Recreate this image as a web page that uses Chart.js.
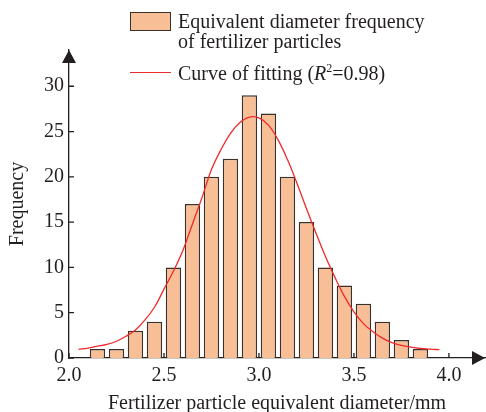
<!DOCTYPE html>
<html>
<head>
<meta charset="utf-8">
<script src="https://cdn.jsdelivr.net/npm/chart.js@4/dist/chart.umd.min.js"></script>
<style>
  body { margin: 0; background: #fff; }
  #wrap { position: relative; width: 486px; height: 412px; font-family: "Liberation Serif", "DejaVu Serif", serif; color: #231f20; }
  .lg { position: absolute; font-size: 20px; line-height: 20px; white-space: nowrap; }
  #swatch { position: absolute; left: 130px; top: 12px; width: 41px; height: 19px; box-sizing: border-box; background: #f8bf96; border: 1.5px solid #3b302a; }
  #redline { position: absolute; left: 130px; top: 72px; width: 41px; height: 1.3px; background: #ee2a2a; }
  sup { font-size: 12px; vertical-align: 8px; line-height: 0; }
</style>
</head>
<body>
<div id="wrap">
  <canvas id="myChart" width="486" height="412"></canvas>
  <div id="swatch"></div>
  <div class="lg" style="left:178px;top:11px;">Equivalent diameter frequency<br>of fertilizer particles</div>
  <div id="redline"></div>
  <div class="lg" style="left:178px;top:63px;">Curve of fitting (<i>R</i><sup>2</sup>=0.98)</div>
</div>
<script>
// histogram bins (bin centre, mm) and counts
var binCentres = [2.15, 2.25, 2.35, 2.45, 2.55, 2.65, 2.75, 2.85, 2.95, 3.05, 3.15, 3.25, 3.35, 3.45, 3.55, 3.65, 3.75, 3.85];
var counts     = [1, 1, 3, 4, 10, 17, 20, 22, 29, 27, 20, 15, 10, 8, 6, 4, 2, 1];

// fitted curve
var fitX = [2.05, 2.10, 2.15, 2.20, 2.25, 2.30, 2.35, 2.40, 2.45, 2.50, 2.55, 2.60, 2.65, 2.70, 2.75, 2.80, 2.85, 2.90, 2.95, 3.00,
            3.05, 3.10, 3.15, 3.20, 3.25, 3.30, 3.35, 3.40, 3.45, 3.50, 3.55, 3.60, 3.65, 3.70, 3.75, 3.80, 3.85, 3.90, 3.95];
var fitY = [0.95, 1.1, 1.3, 1.5, 1.85, 2.4, 3.1, 4.2, 5.6, 7.6, 9.6, 11.9, 14.8, 17.7, 20.8, 23.0, 24.8, 26.0, 26.6, 26.5,
            25.7, 24.1, 21.9, 19.3, 16.5, 13.8, 11.2, 8.9, 6.8, 5.1, 3.8, 2.9, 2.2, 1.7, 1.4, 1.2, 1.05, 0.97, 0.92];

var xTicks = [2.0, 2.5, 3.0, 3.5, 4.0];
var yTicks = [0, 5, 10, 15, 20, 25, 30];

var axisColor = '#231f20';
var fontSpec = { family: '"Liberation Serif", serif', size: 20 };

var barPoints = binCentres.map(function (x, i) { return { x: x, y: counts[i] }; });
var fitPoints = fitX.map(function (x, i) { return { x: x, y: fitY[i] }; });

// arrowheads + inward tick marks
var axisExtras = {
  id: 'axisExtras',
  afterDatasetsDraw: function (chart) {
    var ctx = chart.ctx, a = chart.chartArea;
    var xs = chart.scales.x, ys = chart.scales.y;
    ctx.save();
    ctx.strokeStyle = axisColor;
    ctx.lineWidth = 1.3;
    ctx.beginPath();
    xTicks.forEach(function (v) {
      var px = xs.getPixelForValue(v);
      ctx.moveTo(px, a.bottom);
      ctx.lineTo(px, a.bottom - 5);
    });
    yTicks.forEach(function (v) {
      var py = ys.getPixelForValue(v);
      ctx.moveTo(a.left, py);
      ctx.lineTo(a.left + 5, py);
    });
    ctx.stroke();
    ctx.fillStyle = axisColor;
    ctx.beginPath();
    ctx.moveTo(a.left, a.top);
    ctx.lineTo(a.left - 7, a.top + 13);
    ctx.lineTo(a.left + 7, a.top + 13);
    ctx.closePath();
    ctx.fill();
    ctx.beginPath();
    ctx.moveTo(a.right, a.bottom);
    ctx.lineTo(a.right - 13, a.bottom - 7);
    ctx.lineTo(a.right - 13, a.bottom + 7);
    ctx.closePath();
    ctx.fill();
    ctx.restore();
  }
};

var ctx = document.getElementById('myChart').getContext('2d');
var chart = new Chart(ctx, {
  data: {
    datasets: [{
      type: 'line',
      label: 'Curve of fitting',
      data: fitPoints,
      borderColor: '#ee2a2a',
      borderWidth: 1.3,
      pointRadius: 0,
      tension: 0.4,
      fill: false,
      order: 0
    }, {
      type: 'bar',
      label: 'Equivalent diameter frequency of fertilizer particles',
      data: barPoints,
      backgroundColor: '#f8bf96',
      borderColor: '#3b302a',
      borderWidth: 1.5,
      barPercentage: 0.81,
      categoryPercentage: 1.0,
      order: 1
    }]
  },
  options: {
    responsive: false,
    animation: false,
    layout: { padding: { top: 50, right: 1, left: 0, bottom: 0 } },
    plugins: { legend: { display: false }, tooltip: { enabled: false } },
    scales: {
      x: {
        type: 'linear',
        min: 2.0,
        max: 4.19,
        offset: false,
        grid: { display: false, drawTicks: false, offset: false },
        border: { color: axisColor, width: 1.3 },
        afterBuildTicks: function (s) { s.ticks = xTicks.map(function (v) { return { value: v }; }); },
        ticks: {
          color: axisColor, font: fontSpec, padding: 6, maxRotation: 0,
          callback: function (v) { return Number(v).toFixed(1); }
        },
        title: { display: true, text: 'Fertilizer particle equivalent diameter/mm', color: axisColor, font: fontSpec, padding: { top: 0, bottom: -4 } },
        afterFit: function (s) { s.height = 54; }
      },
      y: {
        min: 0,
        max: 34,
        grid: { display: false, drawTicks: false },
        border: { color: axisColor, width: 1.3 },
        afterBuildTicks: function (s) { s.ticks = yTicks.map(function (v) { return { value: v }; }); },
        ticks: { color: axisColor, font: fontSpec, padding: 5 },
        title: { display: true, text: 'Frequency', color: axisColor, font: fontSpec, padding: { top: 6, bottom: 0 } },
        afterFit: function (s) { s.width = 69; }
      }
    }
  },
  plugins: [axisExtras]
});
</script>
</body>
</html>
